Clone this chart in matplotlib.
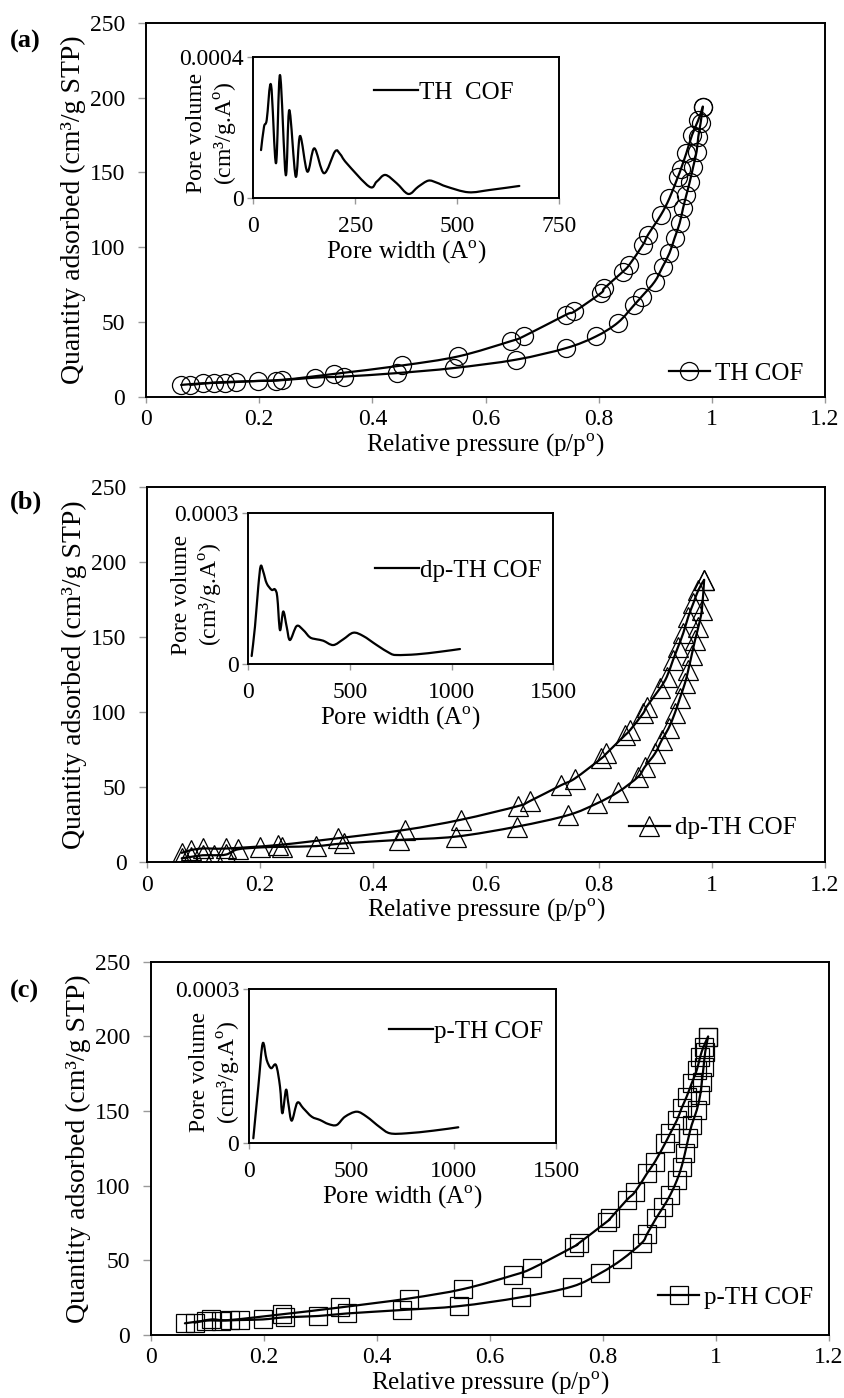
"""
N2 sorption isotherms (TH COF, dp-TH COF, p-TH COF) with pore size
distribution insets, three stacked panels.
"""

import matplotlib
matplotlib.use("Agg")
import matplotlib.pyplot as plt
from matplotlib.lines import Line2D
from matplotlib.patches import PathPatch
from matplotlib.path import Path
from matplotlib.ticker import FixedLocator, FixedFormatter

plt.rcParams["font.family"] = ["Liberation Serif", "DejaVu Serif"]
plt.rcParams["mathtext.fontset"] = "custom"
plt.rcParams["mathtext.rm"] = "Liberation Serif"

# ---- panel (a): TH COF ----
a_ads_p = [0.062, 0.100, 0.140, 0.198, 0.230, 0.299, 0.350, 0.443, 0.544, 0.654,
           0.742, 0.795, 0.834, 0.863, 0.876, 0.899, 0.913, 0.925, 0.934, 0.943,
           0.949, 0.955, 0.961, 0.967, 0.973, 0.976, 0.980, 0.984]
a_ads_q = [7.9, 9.0, 9.5, 10.6, 10.8, 12.8, 13.5, 15.8, 19.2, 24.8,
           32.5, 40.3, 49.6, 61.5, 67.0, 77.0, 87.0, 96.0, 106.0, 116.0,
           126.0, 135.0, 143.8, 153.8, 163.9, 173.9, 182.8, 193.9]
a_des_p = [0.984, 0.976, 0.965, 0.955, 0.945, 0.940, 0.925, 0.910, 0.887, 0.878,
           0.854, 0.843, 0.810, 0.804, 0.757, 0.742, 0.668, 0.645, 0.552, 0.452,
           0.333, 0.240, 0.159, 0.121, 0.078]
a_des_q = [193.9, 185.0, 175.0, 163.0, 152.0, 147.0, 132.7, 121.6, 108.2, 101.5,
           88.2, 83.7, 72.6, 69.3, 57.0, 54.8, 40.5, 37.2, 27.0, 20.9,
           15.3, 11.3, 10.1, 9.5, 7.9]
a_psd_w = [18.9, 26.2, 32.8, 43.4, 55.6, 65.4, 79.4, 88.2, 103.9, 114.5, 132.4,
           149.5, 173.3, 200.2, 212.5, 228.9, 284.3, 302.4, 323.5, 351.4, 380.0,
           404.4, 429.0, 449.5, 474.0, 527.0, 580.0, 652.0]
a_psd_v = [0.000136, 0.000202, 0.000221, 0.000320, 0.0000988, 0.000348, 0.0000658,
           0.000249, 0.0000610, 0.000176, 0.0000751, 0.000141, 0.0000706, 0.000132,
           0.000125, 0.0000988, 0.0000327, 0.0000469, 0.0000658, 0.0000423, 0.0000121,
           0.0000327, 0.0000497, 0.0000440, 0.0000327, 0.0000169, 0.0000234, 0.0000347]

# ---- panel (b): dp-TH COF ----
b_ads_p = [0.061, 0.077, 0.098, 0.118, 0.140, 0.160, 0.200, 0.238, 0.299, 0.348,
           0.445, 0.546, 0.655, 0.745, 0.796, 0.834, 0.869, 0.881, 0.899, 0.911,
           0.923, 0.934, 0.943, 0.952, 0.958, 0.964, 0.970, 0.976, 0.982, 0.986]
b_ads_q = [2.5, 3.4, 4.5, 4.5, 5.0, 8.4, 9.7, 10.1, 10.6, 12.4,
           14.7, 16.9, 23.6, 31.2, 39.0, 46.7, 56.7, 63.4, 72.3, 81.2,
           89.0, 99.0, 109.0, 119.0, 127.9, 137.9, 147.9, 156.8, 168.0, 187.9]
b_des_p = [0.986, 0.976, 0.967, 0.958, 0.949, 0.940, 0.931, 0.920, 0.908, 0.884,
           0.878, 0.855, 0.846, 0.813, 0.804, 0.757, 0.733, 0.677, 0.656, 0.556,
           0.456, 0.337, 0.231, 0.140, 0.098, 0.077, 0.061]
b_des_q = [187.9, 181.3, 172.4, 163.4, 152.4, 143.4, 134.6, 123.4, 115.7, 103.4,
           99.0, 87.9, 84.5, 72.3, 69.0, 55.6, 51.2, 40.5, 37.2, 28.2,
           21.4, 15.8, 11.3, 9.0, 9.0, 7.9, 6.1]
b_psd_w = [16.7, 33.0, 49.2, 61.0, 73.8, 90.5, 115.0, 131.0, 142.6, 155.9, 172.0,
           188.9, 205.0, 238.0, 270.5, 303.5, 336.4, 369.0, 418.0, 467.0, 516.5,
           565.7, 631.6, 697.0, 730.0, 828.3, 943.0, 1041.0]
b_psd_v = [0.0000165, 0.0000747, 0.000154, 0.000195, 0.000184, 0.000161, 0.000148,
           0.000149, 0.000134, 0.0000681, 0.000105, 0.0000747, 0.0000483, 0.0000761,
           0.0000681, 0.0000536, 0.0000497, 0.0000469, 0.0000383, 0.0000497, 0.0000628,
           0.0000562, 0.0000383, 0.0000219, 0.0000185, 0.0000199, 0.0000250, 0.0000304]

# ---- panel (c): p-TH COF ----
c_ads_p = [0.060, 0.098, 0.124, 0.157, 0.198, 0.237, 0.296, 0.347, 0.444, 0.545,
           0.654, 0.745, 0.795, 0.834, 0.869, 0.878, 0.894, 0.907, 0.919, 0.931,
           0.939, 0.945, 0.951, 0.957, 0.966, 0.972, 0.975, 0.978, 0.981, 0.986]
c_ads_q = [7.8, 9.6, 9.6, 10.0, 10.4, 11.8, 12.7, 14.4, 16.7, 19.3,
           25.2, 32.4, 41.3, 50.7, 61.8, 67.6, 78.2, 85.9, 93.8, 103.8,
           112.7, 121.7, 131.7, 140.7, 150.7, 160.8, 169.7, 179.7, 189.8, 199.8]
c_des_p = [0.986, 0.978, 0.972, 0.966, 0.957, 0.948, 0.939, 0.931, 0.919, 0.910,
           0.892, 0.878, 0.857, 0.842, 0.813, 0.807, 0.757, 0.748, 0.675, 0.641,
           0.552, 0.456, 0.334, 0.231, 0.139, 0.107, 0.077]
c_des_q = [199.8, 193.1, 186.4, 177.5, 168.6, 159.6, 151.8, 144.0, 135.1, 128.4,
           116.1, 108.3, 96.0, 90.4, 78.1, 75.9, 61.4, 59.1, 44.7, 40.0,
           30.7, 24.4, 18.4, 13.8, 10.0, 10.4, 8.2]
c_psd_w = [21.0, 45.4, 66.8, 86.3, 107.5, 131.9, 151.4, 162.8, 180.7, 192.0, 208.5,
           236.0, 265.3, 306.3, 346.8, 387.4, 428.4, 469.0, 526.0, 575.0, 640.0,
           688.8, 770.4, 900.4, 1022.5]
c_psd_v = [0.0000097, 0.000110, 0.000194, 0.000162, 0.000146, 0.000152, 0.000110,
           0.0000583, 0.000104, 0.0000778, 0.0000439, 0.0000789, 0.0000680, 0.0000517,
           0.0000453, 0.0000375, 0.0000356, 0.0000517, 0.0000614, 0.0000517, 0.0000311,
           0.0000194, 0.0000194, 0.0000245, 0.0000311]

main_xticks = [0, 0.2, 0.4, 0.6, 0.8, 1.0, 1.2]
main_xlabels = ["0", "0.2", "0.4", "0.6", "0.8", "1", "1.2"]
main_yticks = [0, 50, 100, 150, 200, 250]

TICK_FS = 17
LABEL_FS = 18


def smooth_line(ax, x, y, lw=1.6):
    """Excel-style smoothed line (Catmull-Rom drawn as cubic Bezier segments)."""
    pts = list(zip(x, y))
    verts, codes = [pts[0]], [Path.MOVETO]
    for i in range(len(pts) - 1):
        p0 = pts[i - 1] if i > 0 else pts[i]
        p1, p2 = pts[i], pts[i + 1]
        p3 = pts[i + 2] if i + 2 < len(pts) else p2
        c1 = (p1[0] + (p2[0] - p0[0]) / 6, p1[1] + (p2[1] - p0[1]) / 6)
        c2 = (p2[0] - (p3[0] - p1[0]) / 6, p2[1] - (p3[1] - p1[1]) / 6)
        verts += [c1, c2, p2]
        codes += [Path.CURVE4] * 3
    ax.add_patch(PathPatch(Path(verts, codes), fill=False, lw=lw,
                           edgecolor="black", capstyle="round", joinstyle="round"))


def style_axes(ax, xpad, ypad, ylen):
    for s in ax.spines.values():
        s.set_linewidth(1.4)
        s.set_color("black")
    ax.tick_params(direction="out", width=1, color="#999999", labelsize=TICK_FS)
    ax.tick_params(axis="x", length=4, pad=xpad)
    ax.tick_params(axis="y", length=ylen, pad=ypad)


def main_panel(rect, tag, tag_y, ads_p, ads_q, des_p, des_q, marker, ms, name, leg_xy):
    ax = fig.add_axes(rect)
    mk = dict(ls="none", marker=marker, mfc="none", mec="black", mew=0.9, ms=ms)
    smooth_line(ax, ads_p, ads_q)
    smooth_line(ax, des_p, des_q)
    ax.plot(ads_p, ads_q, **mk)
    ax.plot(des_p, des_q, **mk)
    ax.set_xlim(0, 1.2)
    ax.set_ylim(0, 250)
    ax.xaxis.set_major_locator(FixedLocator(main_xticks))
    ax.xaxis.set_major_formatter(FixedFormatter(main_xlabels))
    ax.set_yticks(main_yticks)
    ax.set_xlabel(r"Relative pressure (p/p$^{\rm o}$)", fontsize=LABEL_FS, labelpad=1)
    ax.set_ylabel("Quantity adsorbed (cm³/g STP)", fontsize=LABEL_FS + 2, labelpad=3)
    style_axes(ax, xpad=5, ypad=9, ylen=6)
    h = Line2D([], [], color="black", lw=1.6, marker=marker, mfc="none",
               mec="black", mew=0.9, ms=ms)
    ax.legend([h], [name], loc="center right", bbox_to_anchor=leg_xy,
              frameon=False, fontsize=LABEL_FS, handlelength=1.65,
              handletextpad=0.2, borderaxespad=0, borderpad=0)
    fig.text(0.012, tag_y, tag, fontsize=LABEL_FS + 1, fontweight="bold",
             va="center", ha="left")
    return ax


def inset_panel(rect, w, v, xmax, ymax, ylab_top, name, ylab_x, leg_xy):
    ax = fig.add_axes(rect)
    smooth_line(ax, w, v)
    ax.set_xlim(0, xmax)
    ax.set_ylim(0, ymax)
    xt = [0, xmax / 3, 2 * xmax / 3, xmax]
    ax.set_xticks(xt)
    ax.set_xticklabels([str(int(t)) for t in xt])
    ax.set_yticks([0, ymax])
    ax.set_yticklabels(["0", ylab_top])
    ax.set_xlabel(r"Pore width (A$^{\rm o}$)", fontsize=LABEL_FS, labelpad=1)
    ax.set_ylabel("Pore volume\n" + r"(cm³/g.A$^{\rm o}$)", fontsize=LABEL_FS - 1,
                  linespacing=1.3)
    ax.yaxis.set_label_coords(ylab_x, 0.46)
    style_axes(ax, xpad=9, ypad=3, ylen=4)
    h = Line2D([], [], color="black", lw=1.6)
    ax.legend([h], [name], loc="center right", bbox_to_anchor=leg_xy,
              frameon=False, fontsize=LABEL_FS, handlelength=1.75,
              handletextpad=0.05, borderaxespad=0, borderpad=0)
    return ax


fig = plt.figure(figsize=(8.45, 13.98), dpi=100)

main_panel([0.1728, 0.7162, 0.8036, 0.2675], "(a)", 0.970, a_ads_p, a_ads_q,
           a_des_p, a_des_q, "o", 13, "TH COF", (0.968, 0.062))
inset_panel([0.2998, 0.8582, 0.3621, 0.1013], a_psd_w, a_psd_v, 750, 0.0004,
            "0.0004", "TH  COF", -0.045, (0.85, 0.746))

main_panel([0.1743, 0.3834, 0.8020, 0.2685], "(b)", 0.641, b_ads_p, b_ads_q,
           b_des_p, b_des_q, "^", 14, "dp-TH COF", (0.958, 0.09))
inset_panel([0.2938, 0.5248, 0.3610, 0.1080], b_psd_w, b_psd_v, 1500, 0.0003,
            "0.0003", "dp-TH COF", -0.075, (0.963, 0.623))

main_panel([0.1787, 0.0451, 0.8024, 0.2670], "(c)", 0.2906, c_ads_p, c_ads_q,
           c_des_p, c_des_q, "s", 13, "p-TH COF", (0.977, 0.10))
inset_panel([0.2947, 0.1822, 0.3633, 0.1104], c_psd_w, c_psd_v, 1500, 0.0003,
            "0.0003", "p-TH COF", -0.02, (0.958, 0.723))

fig.savefig("out.png", dpi=100)
